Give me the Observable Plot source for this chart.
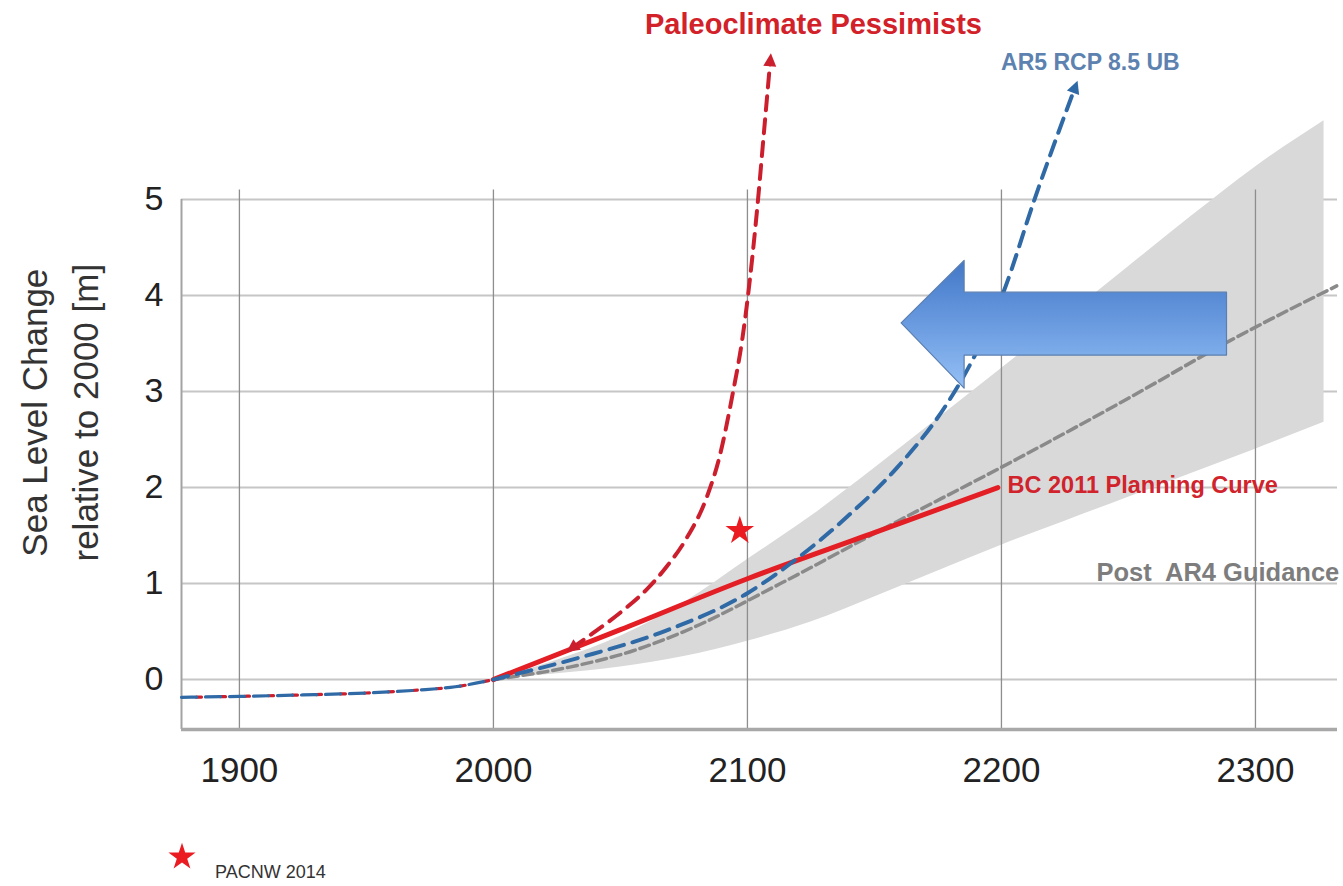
<!DOCTYPE html>
<html>
<head>
<meta charset="utf-8">
<script src="https://cdn.jsdelivr.net/npm/d3@7"></script>
<script src="https://cdn.jsdelivr.net/npm/@observablehq/plot@0.6"></script>
<style>
  html, body { margin: 0; padding: 0; background: #fff; overflow: hidden; }
  #legend { position: relative; width: 1343px; height: 66px; font-family: "Liberation Sans", Arial, sans-serif; }
</style>
</head>
<body>
<div id="chart"></div>
<div id="legend"></div>
<script>
// ---------- data ----------
const xTicks = [1900, 2000, 2100, 2200, 2300];
const yTicks = [0, 1, 2, 3, 4, 5];
const xDomain = [1877.2, 2332.3];
const yDomain = [-0.52, 7.073];

// historic (pre-2000) curve, shared by all scenarios
const histYears = [1877.2, 1900, 1925, 1950, 1970, 1985, 2000];
const histLevel = [-0.185, -0.175, -0.16, -0.14, -0.11, -0.075, 0];

// Post AR4 Guidance envelope
const bandYears = [2000, 2025, 2050, 2075, 2100, 2125, 2150, 2175, 2200, 2225, 2250, 2275, 2300, 2327];
const bandUpper = [0, 0.2, 0.45, 0.8, 1.25, 1.7, 2.2, 2.72, 3.24, 3.77, 4.3, 4.83, 5.34, 5.82];
const bandLower = [0, 0.06, 0.13, 0.24, 0.4, 0.6, 0.86, 1.13, 1.4, 1.65, 1.9, 2.15, 2.4, 2.68];

// Post AR4 Guidance central (gray dashed)
const ar4Years = [2000, 2030, 2055, 2075, 2113, 2152, 2207, 2250, 2290, 2332];
const ar4Level = [0, 0.13, 0.3, 0.5, 1.0, 1.55, 2.31, 2.93, 3.53, 4.1];

// AR5 RCP 8.5 upper bound (blue dashed)
const ar5Years = [2000, 2034, 2068, 2100, 2120, 2139, 2159, 2178, 2186, 2201, 2213, 2229];
const ar5Level = [0, 0.23, 0.51, 0.9, 1.27, 1.69, 2.21, 2.85, 3.2, 4.05, 5.0, 6.17];

// Paleoclimate Pessimists (red dashed)
const paleoYears = [2031, 2039, 2051, 2060, 2068, 2076, 2084, 2089, 2094, 2098, 2100, 2104, 2106.5, 2109];
const paleoLevel = [0.33, 0.48, 0.72, 0.93, 1.17, 1.47, 1.9, 2.32, 2.95, 3.55, 3.95, 4.95, 5.7, 6.45];

// BC 2011 Planning Curve (red solid)
const bcYears = [2000, 2050, 2100, 2150, 2198.6];
const bcLevel = [0, 0.52, 1.05, 1.53, 2.0];

// PACNW 2014 estimate (star)
const pacnwYear = [2097];
const pacnwLevel = [1.55];

// big left-pointing block arrow (annotation)
const arrowYears = [2160.7, 2185.5, 2185.5, 2288.8];
const arrowLow  = [3.71, 3.03, 3.375, 3.375];
const arrowHigh = [3.71, 4.36, 4.03, 4.03];

// texts
const titlePaleo = "Paleoclimate Pessimists";
const titleAr5 = "AR5 RCP 8.5 UB";
const titleBc = "BC 2011 Planning Curve";
const titleAr4 = "Post\u00a0 AR4 Guidance";
const yTitle = "Sea Level Change\nrelative to 2000 [m]";
const legendLabel = "PACNW 2014";

// ---------- helpers ----------
const NS = "http://www.w3.org/2000/svg";
const rows = (xs, ys) => xs.map((x, i) => ({x, y: ys[i]}));
const bandRows = bandYears.map((x, i) => ({x, lo: bandLower[i], hi: bandUpper[i]}));
const arrowRows = arrowYears.map((x, i) => ({x, lo: arrowLow[i], hi: arrowHigh[i]}));

function headMarker(color) {
  const m = document.createElementNS(NS, "marker");
  m.setAttribute("viewBox", "-9 -9 18 18");
  m.setAttribute("markerWidth", "18");
  m.setAttribute("markerHeight", "18");
  m.setAttribute("markerUnits", "userSpaceOnUse");
  m.setAttribute("orient", "auto-start-reverse");
  m.setAttribute("refX", "0");
  m.setAttribute("refY", "0");
  const p = document.createElementNS(NS, "path");
  p.setAttribute("d", "M-6,-6.5L7,0L-6,6.5Z");
  p.setAttribute("fill", color);
  p.setAttribute("stroke", "none");
  m.appendChild(p);
  return m;
}

const FONT = "'Liberation Sans', Arial, sans-serif";
const RED_D = "#cc1f2e", BLUE_D = "#2f6aa6", GRAY_D = "#8a8a8a", RED_S = "#e31e25";

const plot = Plot.plot({
  width: 1343,
  height: 820,
  marginLeft: 181,
  marginRight: 6,
  marginTop: 0,
  marginBottom: 91,
  x: {domain: xDomain},
  y: {domain: yDomain},
  style: {fontFamily: FONT, background: "#fff", color: "#222"},
  marks: [
    Plot.ruleY(yTicks, {stroke: "#c6c6c6", strokeWidth: 2}),
    Plot.areaY(bandRows, {x: "x", y1: "lo", y2: "hi", fill: "#d9d9d9", curve: "monotone-x"}),
    Plot.ruleX(xTicks, {y1: 5.1, y2: yDomain[0], stroke: "#8e8e8e", strokeWidth: 1.3}),
    Plot.ruleX([xDomain[0]], {y1: 5, y2: yDomain[0], stroke: "#a3a3a3", strokeWidth: 2}),
    Plot.ruleY([yDomain[0]], {stroke: "#a8a8a8", strokeWidth: 3.5}),

    // historic (mixed red / blue dashes)
    Plot.line(rows(histYears, histLevel), {x: "x", y: "y", stroke: RED_D, strokeWidth: 3.2, strokeDasharray: "5,19", strokeDashoffset: 9, curve: "monotone-x"}),
    Plot.line(rows(histYears, histLevel), {x: "x", y: "y", stroke: BLUE_D, strokeWidth: 3.2, strokeDasharray: "15,9", curve: "monotone-x"}),

    // scenarios
    Plot.line(rows(ar4Years, ar4Level), {x: "x", y: "y", stroke: GRAY_D, strokeWidth: 3.5, strokeDasharray: "10,5", curve: "monotone-x"}),
    Plot.line(rows(bcYears, bcLevel), {x: "x", y: "y", stroke: RED_S, strokeWidth: 5, curve: "monotone-x"}),
    Plot.line(rows(ar5Years, ar5Level), {x: "x", y: "y", stroke: BLUE_D, strokeWidth: 4, strokeDasharray: "15,9", curve: "monotone-x", markerEnd: headMarker}),
    Plot.line(rows(paleoYears, paleoLevel), {x: "x", y: "y", stroke: RED_D, strokeWidth: 4, strokeDasharray: "14,9", curve: "monotone-x", markerStart: headMarker, markerEnd: headMarker}),

    // block arrow
    Plot.areaY(arrowRows, {x: "x", y1: "lo", y2: "hi", fill: "url(#arrowGrad)", stroke: "#5b7fb0", strokeWidth: 1.2, curve: "linear"}),

    // star
    Plot.dot(rows(pacnwYear, pacnwLevel), {x: "x", y: "y", symbol: "star", r: 9, fill: "#ea1c22", stroke: "none"}),

    // labels
    Plot.text([titlePaleo], {x: 2126, y: 6.729, text: d => d, fontSize: 29, fontWeight: "bold", fill: "#d22129", lineAnchor: "bottom", textAnchor: "middle"}),
    Plot.text([titleAr5], {x: 2235, y: 6.354, text: d => d, fontSize: 23, fontWeight: "bold", fill: "#5d82b0", lineAnchor: "bottom", textAnchor: "middle"}),
    Plot.text([titleBc], {x: 2202.4, y: 1.948, text: d => d, fontSize: 23.5, fontWeight: "bold", fill: "#d1232c", lineAnchor: "bottom", textAnchor: "start"}),
    Plot.text([titleAr4], {x: 2333, y: 1.031, text: d => d, fontSize: 25.5, fontWeight: "bold", fill: "#7d7d7d", lineAnchor: "bottom", textAnchor: "end"}),
    Plot.text([yTitle], {frameAnchor: "left", y: 2.78, dx: -125, rotate: -90, text: d => d, fontSize: 35, lineHeight: 1.46, fill: "#333", textAnchor: "middle", lineAnchor: "middle"}),

    // axes
    Plot.axisX(xTicks, {tickSize: 0, tickPadding: 28, fontSize: 35, tickFormat: d => String(d), label: null, fill: "#222"}),
    Plot.axisY(yTicks, {tickSize: 0, tickPadding: 18, fontSize: 34, tickFormat: d => String(d), label: null, fill: "#222"})
  ]
});

// gradient for the block arrow
const defs = document.createElementNS(NS, "defs");
defs.innerHTML = '<linearGradient id="arrowGrad" x1="0" y1="0" x2="0" y2="1">' +
  '<stop offset="0" stop-color="#4378c7"/><stop offset="0.5" stop-color="#6a9be0"/><stop offset="1" stop-color="#95c0f5"/></linearGradient>';
plot.insertBefore(defs, plot.firstChild);
document.getElementById("chart").appendChild(plot);

// legend below the chart
const legend = document.getElementById("legend");
const ls = document.createElementNS(NS, "svg");
ls.setAttribute("width", "40");
ls.setAttribute("height", "40");
ls.style.position = "absolute";
ls.style.left = "162px";
ls.style.top = "16px";
const sp = document.createElementNS(NS, "path");
sp.setAttribute("d", d3.symbol(d3.symbolStar, 230)());
sp.setAttribute("transform", "translate(20,21)");
sp.setAttribute("fill", "#ea1c22");
ls.appendChild(sp);
legend.appendChild(ls);
const lt = document.createElement("span");
lt.textContent = legendLabel;
lt.style.cssText = "position:absolute;left:215px;top:43px;font-size:18px;line-height:18px;color:#333;white-space:nowrap;";
legend.appendChild(lt);
</script>
</body>
</html>
